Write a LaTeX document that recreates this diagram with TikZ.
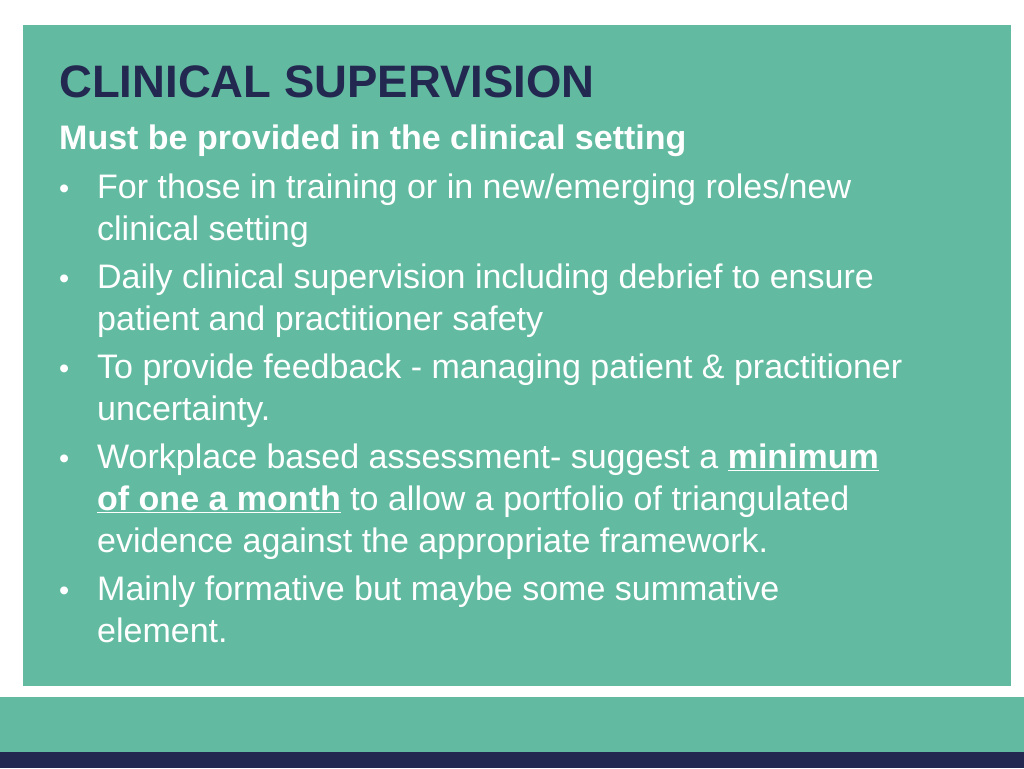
\documentclass[tikz,border=0pt]{standalone}
\usepackage{fontspec}
\setmainfont{Liberation Sans}
\definecolor{bggreen}{HTML}{62BBA0}
\definecolor{navy}{HTML}{232850}
\begin{document}
\begin{tikzpicture}[x=1pt,y=-1pt,
  ln/.style={anchor=base west,inner sep=0pt,text=white,font=\fontsize{34}{38}\selectfont},
  bul/.style={anchor=base west,inner sep=0pt,text=white,font=\fontsize{29}{34}\selectfont}]
\useasboundingbox (0,0) rectangle (1024,768);
\fill[white] (0,0) rectangle (1024,768);
\fill[bggreen] (23,25) rectangle (1011,686);
\fill[bggreen] (0,697) rectangle (1024,752);
\fill[navy] (0,752) rectangle (1024,768);
\node[anchor=base west,inner sep=0pt,text=navy,font=\bfseries\fontsize{45.5}{50}\selectfont] (title) at (59,97) {CLINICAL SUPERVISION};
\node[ln,font=\bfseries\fontsize{34}{38}\selectfont] (sub) at (59,149) {Must be provided in the clinical setting};
\foreach \y/\n in {198/b1,288/b2,378/b3,468/b4,600/b5}
  \node[bul] (\n) at (59,\y) {•};
\node[ln] (l1) at (97,198) {For those in training or in new/emerging roles/new};
\node[ln] (l2) at (97,240) {clinical setting};
\node[ln] (l3) at (97,288) {Daily clinical supervision including debrief to ensure};
\node[ln] (l4) at (97,330) {patient and practitioner safety};
\node[ln] (l5) at (97,378) {To provide feedback - managing patient \& practitioner};
\node[ln] (l6) at (97,420) {uncertainty.};
\node[ln] (l7) at (97,468) {Workplace based assessment- suggest a \textbf{\underline{minimum}}};
\node[ln] (l8) at (97,510) {\textbf{\underline{of one a month}} to allow a portfolio of triangulated};
\node[ln] (l9) at (97,552) {evidence against the appropriate framework.};
\node[ln] (l10) at (97,600) {Mainly formative but maybe some summative};
\node[ln] (l11) at (97,642) {element.};
\end{tikzpicture}
\end{document}
